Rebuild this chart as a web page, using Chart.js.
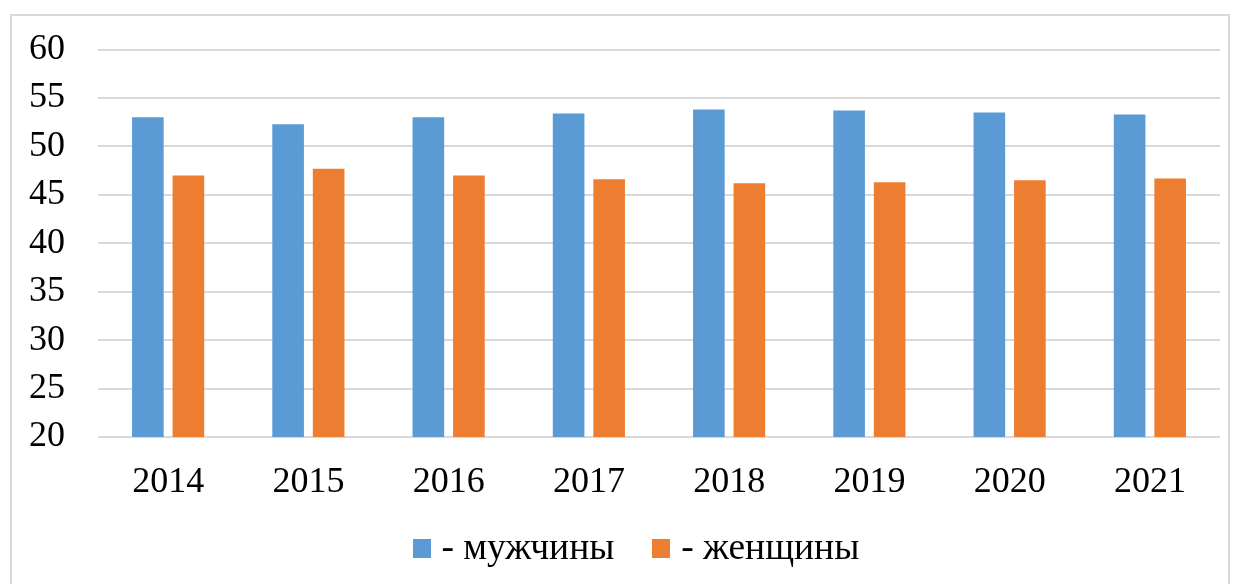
<!DOCTYPE html>
<html>
<head>
<meta charset="utf-8">
<script src="https://cdn.jsdelivr.net/npm/chart.js@4/dist/chart.umd.min.js"></script>
<style>
  html, body { margin: 0; padding: 0; background: #fff; }
  #wrap { position: relative; width: 1237px; height: 584px; overflow: hidden; }
  #frame { position: absolute; left: 10px; top: 14px; width: 1216px; height: 620px; border: 2px solid #d9d9d9; pointer-events: none; }
  canvas#c { position: absolute; left: 0; top: 0; }
</style>
</head>
<body>
<div id="wrap">
  <canvas id="c" width="1237" height="584"></canvas>
  <div id="frame"></div>
</div>
<script>
const categories = ['2014', '2015', '2016', '2017', '2018', '2019', '2020', '2021'];
const men = [53.0, 52.3, 53.0, 53.4, 53.8, 53.7, 53.5, 53.3];
const women = [47.0, 47.7, 47.0, 46.6, 46.2, 46.3, 46.5, 46.7];
const seriesNames = ['- мужчины', '- женщины'];
const colors = ['#5b9bd5', '#ed7d31'];
const yMin = 20, yMax = 60, yStep = 5;

const FONT = "'Liberation Serif', 'Times New Roman', serif";

function swatch(color) {
  const cv = document.createElement('canvas');
  cv.width = 18; cv.height = 19;
  const g = cv.getContext('2d');
  g.fillStyle = color;
  g.fillRect(0, 0, 18, 19);
  return cv;
}
const swatches = colors.map(swatch);

// shift the legend box to where the reference places it
const legendShift = {
  id: 'legendShift',
  afterLayout(chart) {
    const lg = chart.legend;
    if (!lg) return;
    lg.left += 30; lg.right += 30;
    lg.top -= 21; lg.bottom -= 21;
  }
};

new Chart(document.getElementById('c'), {
  type: 'bar',
  data: {
    labels: categories,
    datasets: [
      { label: seriesNames[0], data: men, backgroundColor: colors[0], borderWidth: 0 },
      { label: seriesNames[1], data: women, backgroundColor: colors[1], borderWidth: 0 }
    ]
  },
  plugins: [legendShift],
  options: {
    responsive: false,
    animation: false,
    devicePixelRatio: 1,
    categoryPercentage: 0.578,
    barPercentage: 0.78,
    layout: { padding: { top: 40, right: 17, bottom: -14.5, left: 0 } },
    plugins: {
      tooltip: { enabled: false },
      legend: {
        position: 'bottom',
        labels: {
          usePointStyle: true,
          pointStyleWidth: 2,
          boxWidth: 2,
          boxHeight: 18,
          padding: 46,
          color: '#000',
          font: { family: FONT, size: 37.5 },
          generateLabels: (chart) => {
            const items = Chart.defaults.plugins.legend.labels.generateLabels(chart);
            items.forEach((it, i) => { it.pointStyle = swatches[i]; });
            return items;
          }
        }
      }
    },
    scales: {
      x: {
        grid: { display: false, drawTicks: false },
        border: { display: false },
        ticks: { color: '#000', font: { family: FONT, size: 36 }, padding: 24 },
        afterFit: (s) => { s.height = 68; }
      },
      y: {
        min: yMin, max: yMax,
        grid: { color: '#d9d9d9', lineWidth: 2, drawTicks: false },
        border: { display: false },
        ticks: { stepSize: yStep, color: '#000', font: { family: FONT, size: 36, lineHeight: 0.92 }, padding: 33 },
        afterFit: (s) => { s.width = 98; }
      }
    }
  }
});
</script>
</body>
</html>
